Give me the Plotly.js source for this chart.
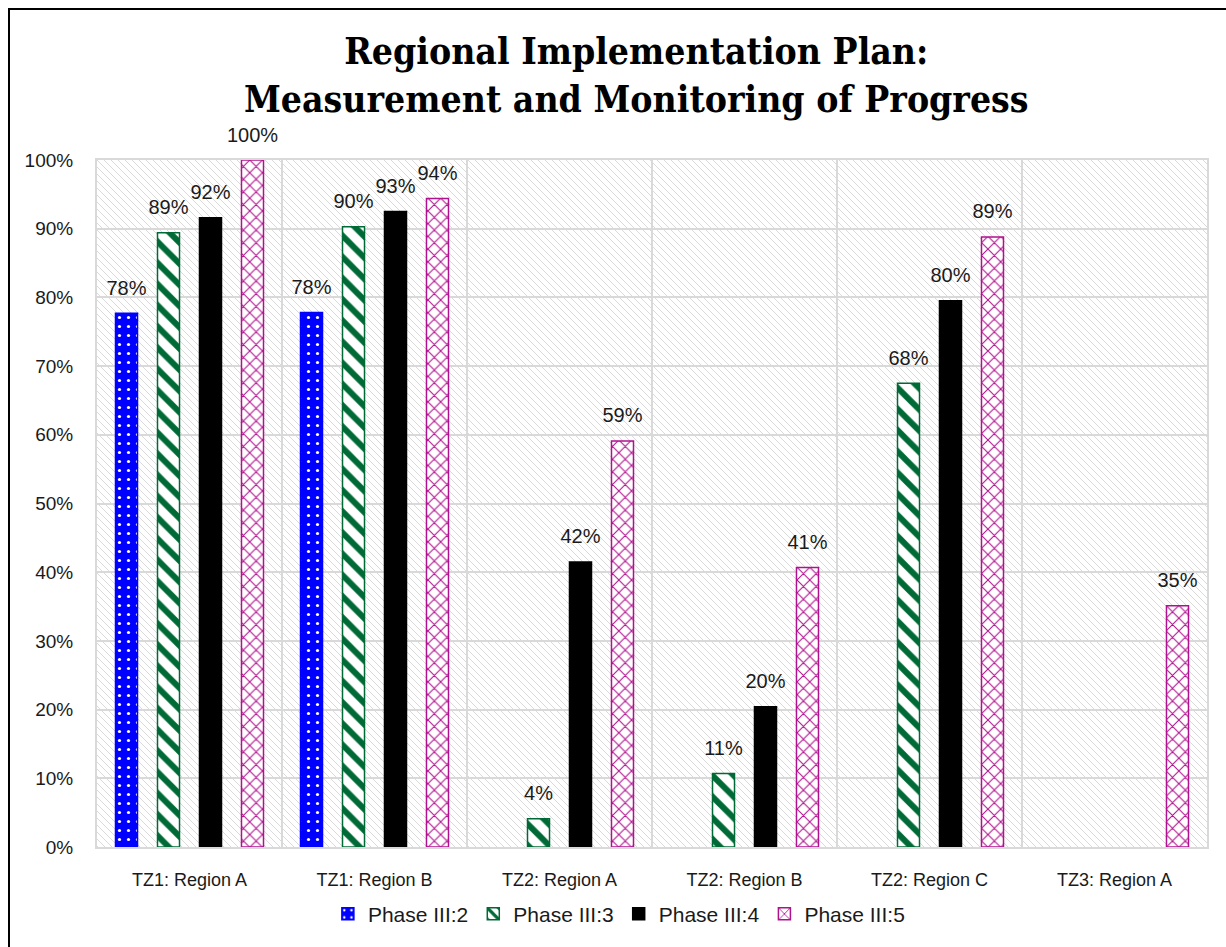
<!DOCTYPE html>
<html>
<head>
<meta charset="utf-8">
<script src="https://cdn.plot.ly/plotly-3.0.1.min.js"></script>
<style>
  html, body { margin: 0; padding: 0; overflow: hidden; background: #ffffff; }
  #chart { position: absolute; left: 0; top: 0; width: 1226px; height: 947px; }
  #frame { position: absolute; left: 8px; top: 8px; width: 1300px; height: 1000px;
           border-left: 2px solid #000; border-top: 2px solid #000; pointer-events: none; }
</style>
</head>
<body>
<div id="chart"></div>
<div id="frame"></div>
<script>
// ---- data ----
const categories = ["TZ1: Region A", "TZ1: Region B", "TZ2: Region A", "TZ2: Region B", "TZ2: Region C", "TZ3: Region A"];
const seriesNames = ["Phase III:2", "Phase III:3", "Phase III:4", "Phase III:5"];
const phase2 = [0.777, 0.778, null, null, null, null];
const phase3 = [0.894, 0.903, 0.041, 0.107, 0.675, null];
const phase4 = [0.916, 0.925, 0.415, 0.204, 0.795, null];
const phase5 = [1.000, 0.944, 0.591, 0.407, 0.888, 0.351];
const yTickVals = [0, 0.1, 0.2, 0.3, 0.4, 0.5, 0.6, 0.7, 0.8, 0.9, 1.0];

// ---- styles ----
const baseFamily = "Liberation Sans, Arial, sans-serif";
const labelFont = { family: baseFamily, size: 19, color: "#1a1a1a" };
const styles = [
  { color: "#0000ff", line: "#0000ff", pattern: { shape: ".", fgcolor: "#ffffff", bgcolor: "#0000ff", size: 9, solidity: 0.1, fillmode: "replace", fgopacity: 1 } },
  { color: "#ffffff", line: "#006a36", pattern: { shape: "\\", fgcolor: "#006a36", bgcolor: "#ffffff", size: 15, solidity: 0.4, fillmode: "replace", fgopacity: 1 } },
  { color: "#000000", line: "#000000", pattern: { shape: "" } },
  { color: "#ffffff", line: "#b0128e", pattern: { shape: "x", fgcolor: "#b0128e", bgcolor: "#ffffff", size: 9, solidity: 0.22, fillmode: "replace", fgopacity: 1 } }
];
const values = [phase2, phase3, phase4, phase5];

const barTraces = values.map((v, i) => ({
  type: "bar",
  name: seriesNames[i],
  x: categories,
  y: v,
  offsetgroup: "g" + i,
  marker: {
    color: styles[i].color,
    line: { color: styles[i].line, width: 1.5 },
    pattern: styles[i].pattern
  },
  textposition: "none",
  hoverinfo: "x+y+name"
}));

// data labels (value text above each bar), aligned with the bar groups
const labelTraces = values.map((v, i) => ({
  type: "scatter",
  mode: "markers+text",
  x: categories,
  y: v,
  offsetgroup: "g" + i,
  marker: { size: 20, opacity: 0, color: "#ffffff" },
  texttemplate: "%{y:.0%}",
  textposition: "top center",
  textfont: { family: baseFamily, size: 20, color: "#1a1a1a" },
  cliponaxis: false,
  showlegend: false,
  hoverinfo: "skip"
}));

// hatched plot-area background (light grey "\" lines)
const W = 1110, H = 687;
const hatchSvg =
  '<svg xmlns="http://www.w3.org/2000/svg" width="' + W + '" height="' + H + '">' +
  '<defs><pattern id="h" patternUnits="userSpaceOnUse" width="7" height="7">' +
  '<path d="M-1,-1 L8,8 M-8,0 L-1,7 M0,-7 L8,1" stroke="#dadada" stroke-width="1"/></pattern></defs>' +
  '<rect width="' + W + '" height="' + H + '" fill="#ffffff"/>' +
  '<rect width="' + W + '" height="' + H + '" fill="url(#h)"/></svg>';
const hatchUri = "data:image/svg+xml;base64," + btoa(hatchSvg);

const layout = {
  width: 1226,
  height: 947,
  margin: { l: 97, r: 19, t: 160, b: 100 },
  paper_bgcolor: "#ffffff",
  plot_bgcolor: "rgba(0,0,0,0)",
  title: {
    text: "<b>Regional Implementation Plan:<br>Measurement and Monitoring of Progress</b>",
    font: { family: "DejaVu Serif Condensed, DejaVu Serif, serif", size: 37, color: "#000000" },
    x: 0.519, xanchor: "center",
    y: 0.932, yanchor: "top", yref: "container"
  },
  barmode: "group",
  bargap: 0.092,
  bargroupgap: 0.476,
  scattermode: "group",
  scattergap: 0.092,
  xaxis: {
    type: "category",
    tickson: "boundaries",
    showgrid: true,
    gridcolor: "#d9d9d9",
    gridwidth: 2,
    showline: true,
    linecolor: "#d9d9d9",
    linewidth: 2,
    mirror: true,
    ticks: "",
    ticklabelstandoff: 15,
    tickfont: { family: baseFamily, size: 18, color: "#1a1a1a" },
    automargin: false
  },
  yaxis: {
    range: [0, 1],
    tickvals: yTickVals,
    tickformat: ".0%",
    showgrid: true,
    gridcolor: "#d9d9d9",
    gridwidth: 2,
    showline: true,
    linecolor: "#d9d9d9",
    linewidth: 2,
    mirror: true,
    zeroline: false,
    ticks: "",
    ticklabelstandoff: 18,
    tickfont: labelFont,
    automargin: false
  },
  legend: {
    orientation: "h",
    x: 0.208, xanchor: "left",
    y: -0.068, yanchor: "top",
    font: { family: baseFamily, size: 21, color: "#1a1a1a" },
    itemwidth: 30,
    tracegroupgap: 0,
    bgcolor: "rgba(0,0,0,0)"
  },
  images: [{
    source: hatchUri,
    xref: "paper", yref: "paper",
    x: 0, y: 1, sizex: 1, sizey: 1,
    xanchor: "left", yanchor: "top",
    sizing: "stretch",
    layer: "below"
  }],
  showlegend: true
};

Plotly.newPlot("chart", barTraces.concat(labelTraces), layout, { displayModeBar: false, staticPlot: true });
</script>
</body>
</html>
